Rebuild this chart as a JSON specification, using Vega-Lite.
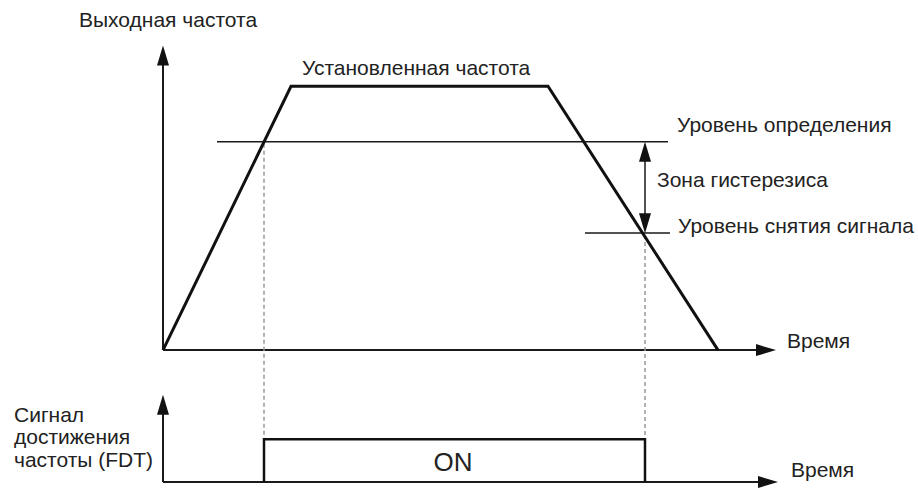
{
  "$schema": "https://vega.github.io/schema/vega-lite/v6.json",
  "width": 918,
  "height": 488,
  "autosize": {"type": "fit", "contains": "padding"},
  "padding": 0,
  "background": "white",
  "config": {"view": {"stroke": null}},
  "datasets": {
    "segs": [
      {"kind": "axis", "x": 163, "y": 353, "x2": 163, "y2": 62},
      {"kind": "axis", "x": 163, "y": 353, "x2": 762, "y2": 353},
      {"kind": "axis", "x": 163, "y": 486, "x2": 163, "y2": 414},
      {"kind": "axis", "x": 163, "y": 486, "x2": 764, "y2": 486},
      {"kind": "level", "x": 217, "y": 143, "x2": 668, "y2": 143},
      {"kind": "level", "x": 585, "y": 235, "x2": 670, "y2": 235},
      {"kind": "level", "x": 645, "y": 155, "x2": 645, "y2": 223},
      {"kind": "dash", "x": 264, "y": 145, "x2": 264, "y2": 443},
      {"kind": "dash", "x": 645, "y": 237, "x2": 645, "y2": 443}
    ],
    "trap": [
      {"o": 1, "x": 163, "y": 353},
      {"o": 2, "x": 291, "y": 87},
      {"o": 3, "x": 548, "y": 87},
      {"o": 4, "x": 718, "y": 353}
    ],
    "pulse": [
      {"o": 1, "x": 264, "y": 486},
      {"o": 2, "x": 264, "y": 443},
      {"o": 3, "x": 645, "y": 443},
      {"o": 4, "x": 645, "y": 486}
    ],
    "heads": [
      {"x": 163, "y": 56, "dir": 0},
      {"x": 163, "y": 408, "dir": 0},
      {"x": 766, "y": 353, "dir": 90},
      {"x": 768, "y": 486, "dir": 90},
      {"x": 645, "y": 153, "dir": 0},
      {"x": 645, "y": 225, "dir": 180}
    ],
    "labels": [
      {"t": "Выходная частота", "x": 79, "y": 21},
      {"t": "Установленная частота", "x": 302, "y": 70},
      {"t": "Уровень определения", "x": 677, "y": 127},
      {"t": "Зона гистерезиса", "x": 657, "y": 182},
      {"t": "Уровень снятия сигнала", "x": 678, "y": 229},
      {"t": "Время", "x": 787, "y": 345},
      {"t": "Сигнал", "x": 14, "y": 419},
      {"t": "достижения", "x": 14, "y": 442},
      {"t": "частоты (FDT)", "x": 14, "y": 465},
      {"t": "Время", "x": 791, "y": 475}
    ],
    "on": [{"t": "ON", "x": 453, "y": 467}]
  },
  "encoding": {
    "x": {"field": "x", "type": "quantitative", "scale": {"domain": [0, 918], "nice": false, "zero": false}, "axis": null},
    "y": {"field": "y", "type": "quantitative", "scale": {"domain": [0, 488], "nice": false, "zero": false, "reverse": true}, "axis": null}
  },
  "layer": [
    {
      "data": {"name": "segs"},
      "transform": [{"filter": "datum.kind === 'axis'"}],
      "mark": {"type": "rule", "color": "#1a1a1a", "strokeWidth": 2},
      "encoding": {"x2": {"field": "x2"}, "y2": {"field": "y2"}}
    },
    {
      "data": {"name": "segs"},
      "transform": [{"filter": "datum.kind === 'level'"}],
      "mark": {"type": "rule", "color": "#1a1a1a", "strokeWidth": 1.5},
      "encoding": {"x2": {"field": "x2"}, "y2": {"field": "y2"}}
    },
    {
      "data": {"name": "segs"},
      "transform": [{"filter": "datum.kind === 'dash'"}],
      "mark": {"type": "rule", "color": "#999999", "strokeWidth": 1.5, "strokeDash": [4, 3]},
      "encoding": {"x2": {"field": "x2"}, "y2": {"field": "y2"}}
    },
    {
      "data": {"name": "trap"},
      "mark": {"type": "line", "color": "#111111", "strokeWidth": 3, "strokeJoin": "miter"},
      "encoding": {"order": {"field": "o"}}
    },
    {
      "data": {"name": "pulse"},
      "mark": {"type": "line", "color": "#111111", "strokeWidth": 2.5, "strokeJoin": "miter"},
      "encoding": {"order": {"field": "o"}}
    },
    {
      "data": {"name": "heads"},
      "mark": {"type": "point", "shape": "M0,-1L0.6,1L-0.6,1Z", "filled": true, "color": "#111111", "opacity": 1, "size": 400},
      "encoding": {"angle": {"field": "dir", "type": "quantitative", "scale": null}}
    },
    {
      "data": {"name": "labels"},
      "mark": {"type": "text", "align": "left", "baseline": "middle", "font": "Liberation Sans", "fontSize": 21, "color": "#222222"},
      "encoding": {"text": {"field": "t"}}
    },
    {
      "data": {"name": "on"},
      "mark": {"type": "text", "align": "center", "baseline": "middle", "font": "Liberation Sans", "fontSize": 26, "color": "#222222"},
      "encoding": {"text": {"field": "t"}}
    }
  ]
}
